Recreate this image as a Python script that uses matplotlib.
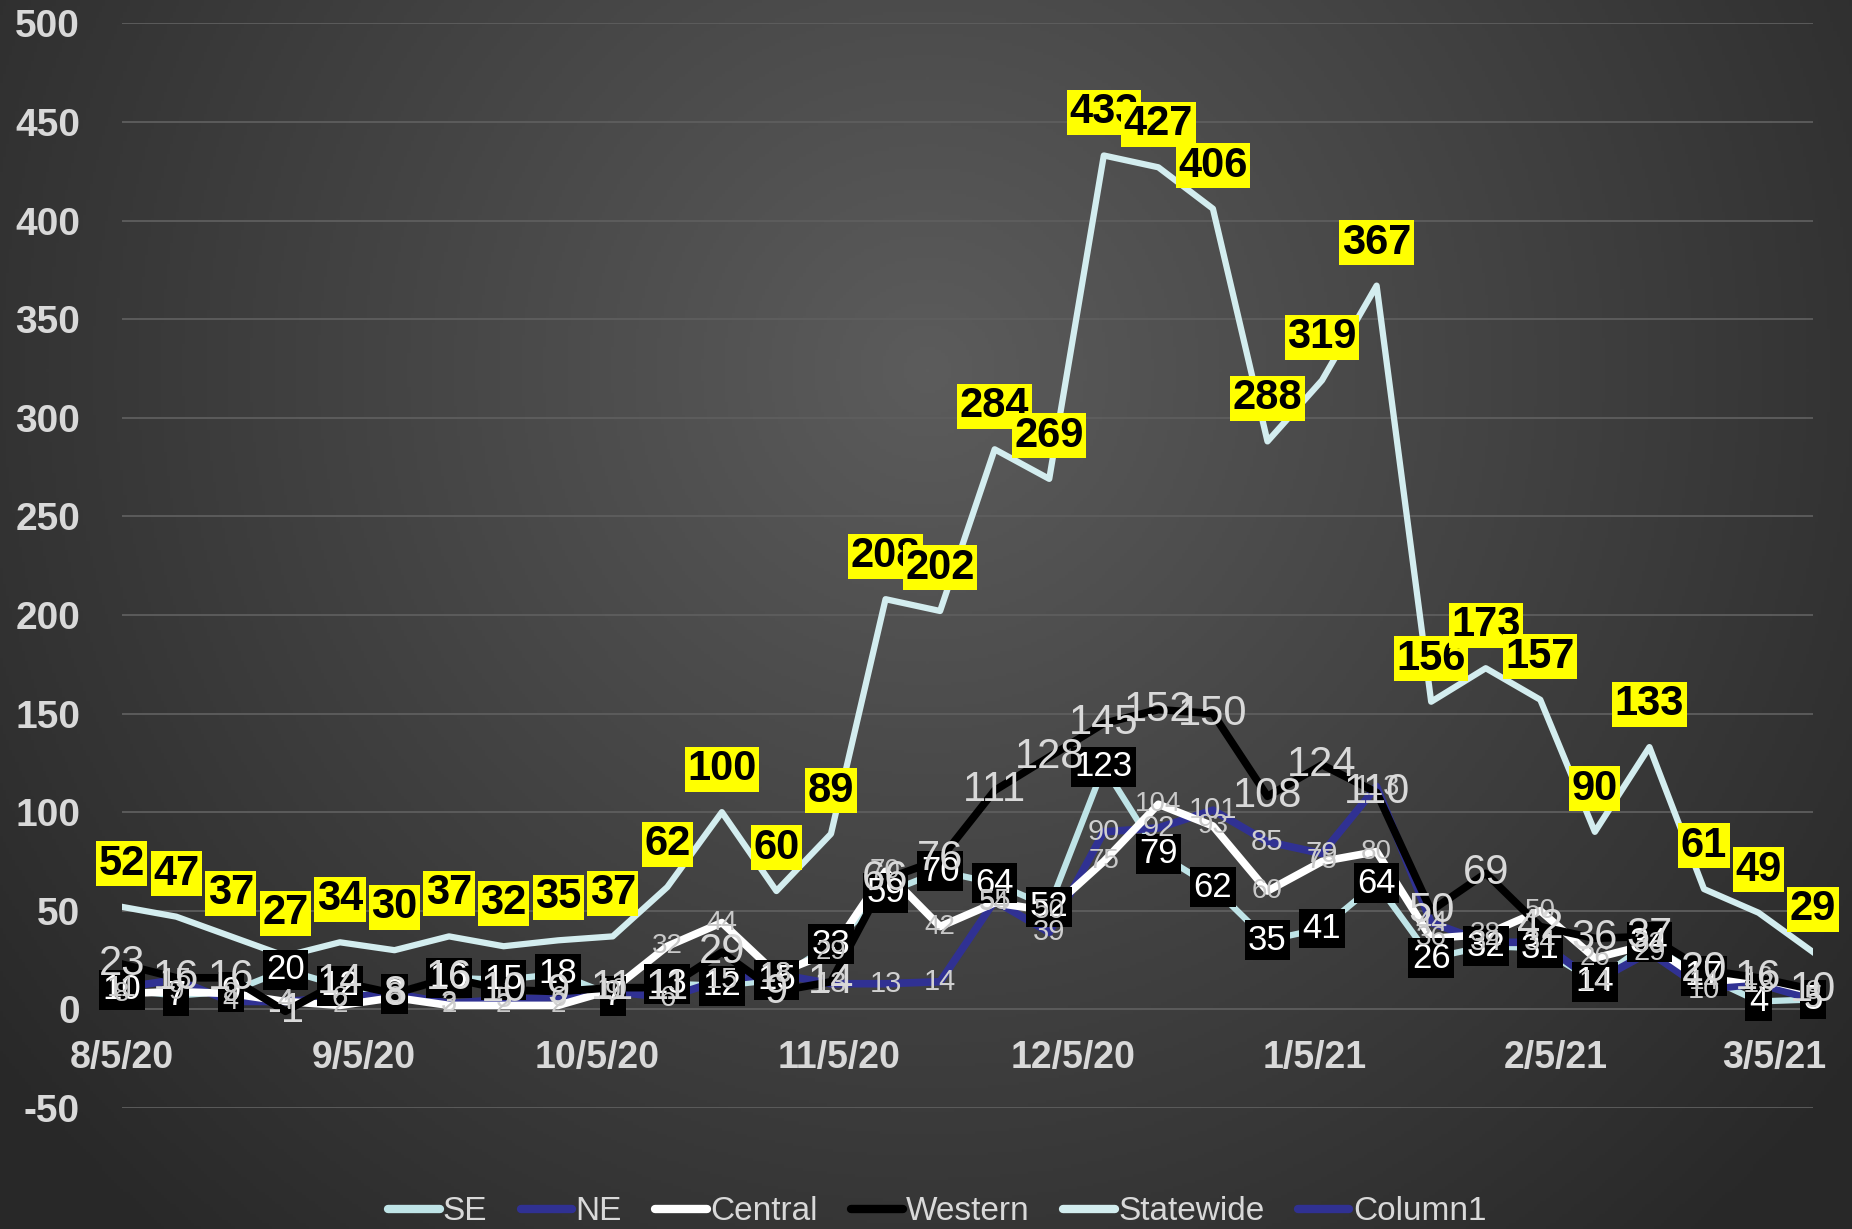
import numpy as np
import matplotlib
matplotlib.use('Agg')
import matplotlib.pyplot as plt
import matplotlib.dates as mdates
from matplotlib.lines import Line2D
from matplotlib import font_manager
import datetime as dt

# ---------------- data ----------------
week_dates = ['2020-08-05', '2020-08-12', '2020-08-19', '2020-08-26', '2020-09-02', '2020-09-09',
              '2020-09-16', '2020-09-23', '2020-09-30', '2020-10-07', '2020-10-14', '2020-10-21',
              '2020-10-28', '2020-11-04', '2020-11-11', '2020-11-18', '2020-11-25', '2020-12-02',
              '2020-12-09', '2020-12-16', '2020-12-23', '2020-12-30', '2021-01-06', '2021-01-13',
              '2021-01-20', '2021-01-27', '2021-02-03', '2021-02-10', '2021-02-17', '2021-02-24',
              '2021-03-03', '2021-03-10']

se = [10, 7, 9, 20, 12, 8, 16, 15, 18, 7, 13, 12, 15, 33, 59, 70, 64, 52, 123, 79, 62, 35, 41, 64,
      26, 32, 31, 14, 34, 17, 4, 5]
ne = [11, 15, 4, 4, 6, 8, 3, 5, 6, 9, 6, 15, 18, 13, 13, 14, 55, 39, 90, 92, 101, 85, 79, 113,
      44, 34, 34, 14, 29, 10, 13, 5]
central = [8, 9, 8, 4, 2, 6, 2, 2, 2, 10, 32, 44, 18, 29, 70, 42, 54, 50, 75, 104, 93, 60, 75, 80,
           36, 38, 50, 26, 33, 14, 16, 9]
western = [23, 16, 16, -1, 14, 8, 16, 10, 9, 11, 11, 29, 9, 14, 66, 76, 111, 128, 145, 152, 150, 108,
           124, 110, 50, 69, 42, 36, 37, 20, 16, 10]
statewide = [52, 47, 37, 27, 34, 30, 37, 32, 35, 37, 62, 100, 60, 89, 208, 202, 284, 269, 433, 427,
             406, 288, 319, 367, 156, 173, 157, 90, 133, 61, 49, 29]
column1 = []

tick_dates = ['2020-08-05', '2020-09-05', '2020-10-05', '2020-11-05', '2020-12-05',
              '2021-01-05', '2021-02-05', '2021-03-05']
tick_labels = ['8/5/20', '9/5/20', '10/5/20', '11/5/20', '12/5/20', '1/5/21', '2/5/21', '3/5/21']
y_ticks = [-50, 0, 50, 100, 150, 200, 250, 300, 350, 400, 450, 500]
legend_names = ['SE', 'NE', 'Central', 'Western', 'Statewide', 'Column1']

# ---------------- style ----------------
FONT = 'Liberation Sans'
installed = {f.name for f in font_manager.fontManager.ttflist}
if 'Liberation Sans Narrow' in installed:
    LEG_FONT, LEG_SIZE = 'Liberation Sans Narrow', 27
else:
    LEG_FONT, LEG_SIZE = 'Liberation Sans', 24
plt.rcParams['font.family'] = [FONT, 'DejaVu Sans']
plt.rcParams['axes.unicode_minus'] = False

C_SE = '#bfe4e7'
C_NE = '#303193'
C_CEN = '#ffffff'
C_WES = '#000000'
C_STATE = '#d3edef'
GREY = '#d9d9d9'

to_num = lambda s: mdates.date2num(dt.datetime.strptime(s, '%Y-%m-%d'))
x = [to_num(d) for d in week_dates]

fig = plt.figure(figsize=(18.52, 12.29), dpi=100)

# background radial gradient
bg = fig.add_axes([0, 0, 1, 1], zorder=0)
H, W = 400, 600
yy, xx = np.mgrid[0:H, 0:W]
d = np.sqrt(((xx / W - 0.5) * 1.5) ** 2 + ((yy / H - 0.3)) ** 2)
d = np.clip(d / 0.95, 0, 1)
c0 = np.array([0x5c, 0x5c, 0x5c]) / 255
c1 = np.array([0x28, 0x28, 0x28]) / 255
img = c0 + (c1 - c0) * d[..., None]
bg.imshow(img, aspect='auto', extent=[0, 1, 0, 1])
bg.axis('off')

ax = fig.add_axes([0.0657, 0.0985, 0.979 - 0.0657, 0.981 - 0.0985], zorder=1)
ax.set_facecolor('none')

lw = 5.5
ax.plot(x, se, color=C_SE, lw=4.5, zorder=3, solid_joinstyle='round')
ax.plot(x, ne, color=C_NE, lw=lw, zorder=3, solid_joinstyle='round')
ax.plot(x, central, color=C_CEN, lw=lw, zorder=3, solid_joinstyle='round')
ax.plot(x, western, color=C_WES, lw=lw, zorder=3, solid_joinstyle='round')
ax.plot(x, statewide, color=C_STATE, lw=4.5, zorder=3, solid_joinstyle='round')

ax.set_xlim(to_num(week_dates[0]), to_num(week_dates[-1]))
ax.set_ylim(-50, 500)
ax.set_yticks(y_ticks)
ax.set_xticks([to_num(d) for d in tick_dates])
ax.set_xticklabels(tick_labels)
ax.grid(axis='y', color='#5e5e5e', lw=1.3, zorder=1)
ax.set_axisbelow(True)
for s in ax.spines.values():
    s.set_color('none')
ax.spines['bottom'].set_position(('data', 0))
ax.tick_params(axis='y', length=0, pad=30, labelsize=28, labelcolor=GREY)
ax.tick_params(axis='x', length=0, pad=22, labelsize=27, labelcolor=GREY)
for t in ax.get_yticklabels() + ax.get_xticklabels():
    t.set_fontweight('bold')

# data labels
def labels(vals, **kw):
    off = kw.pop('off', 0)
    for xi, v in zip(x, vals):
        ax.annotate(str(v), (xi, v), xytext=(0, off), textcoords='offset points',
                    ha='center', va='center', annotation_clip=False, **kw)

labels(se, fontsize=25, color='white', zorder=5,
       bbox=dict(boxstyle='square,pad=0.1', fc='black', ec='none'))
labels(ne, fontsize=21, color='#d0d0d0', zorder=6)
labels(central, fontsize=20, color='#c8c8c8', zorder=7)
labels(western, fontsize=30, color=GREY, zorder=8)
labels(statewide, fontsize=30, color='black', fontweight='bold', zorder=9, off=31,
       bbox=dict(boxstyle='square,pad=0.06', fc='#ffff00', ec='none'))

# legend
handles = [Line2D([], [], color=c, lw=6, solid_capstyle='round')
           for c in [C_SE, C_NE, C_CEN, C_WES, C_STATE, C_NE]]
leg = fig.legend(handles, legend_names, loc='center', bbox_to_anchor=(0.506, 0.014), ncol=6,
                 frameon=False, handlelength=1.55, handletextpad=0.1, columnspacing=1.0,
                 prop={'family': LEG_FONT, 'size': LEG_SIZE})
for t in leg.get_texts():
    t.set_color(GREY)

fig.savefig('out.png', dpi=100)
